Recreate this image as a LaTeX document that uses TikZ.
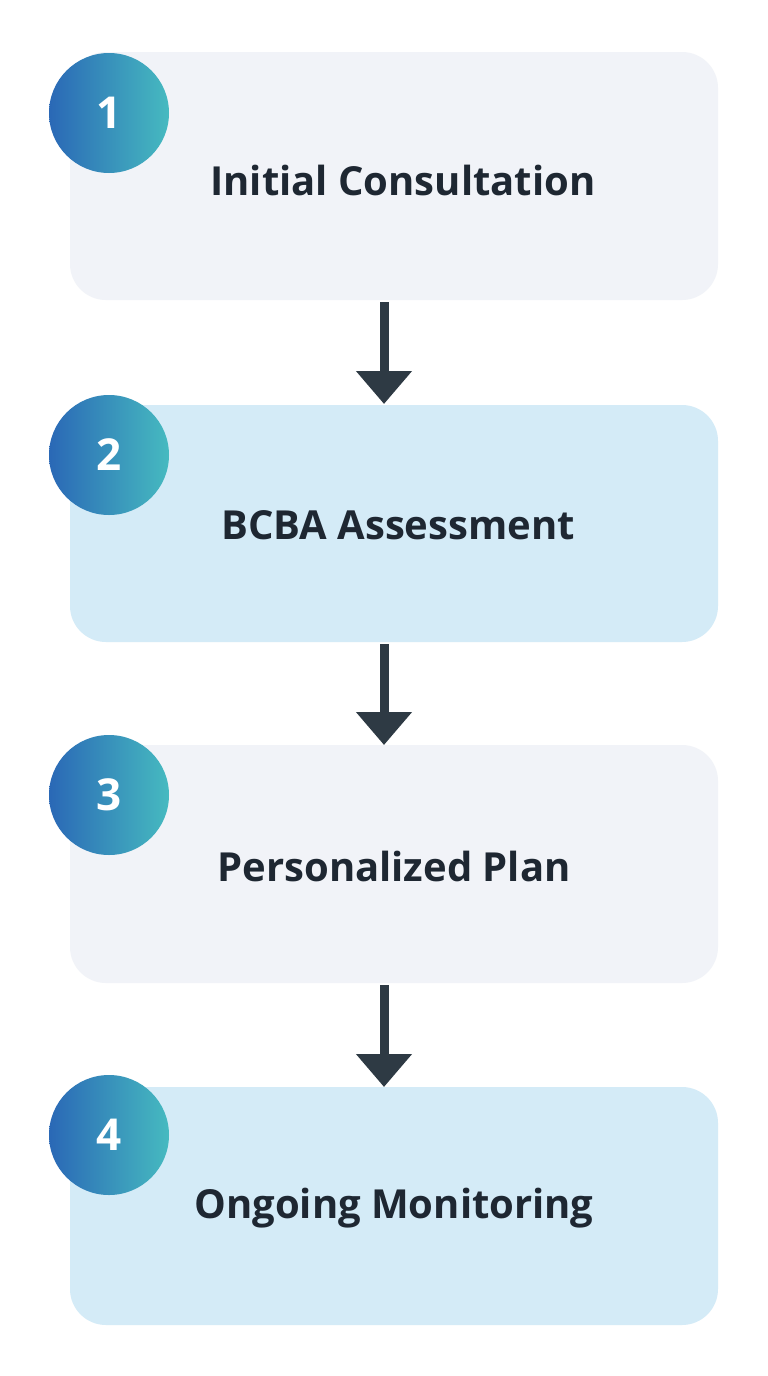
\documentclass[tikz,border=0pt]{standalone}
\usepackage{fontspec}
\setmainfont{Open Sans}
\usetikzlibrary{arrows.meta}
\definecolor{boxa}{HTML}{F1F3F8}
\definecolor{boxb}{HTML}{D4EBF7}
\definecolor{cl}{HTML}{2A68B6}
\definecolor{cr}{HTML}{46BAC0}
\definecolor{ink}{HTML}{1E2732}
\definecolor{arr}{HTML}{2E3A44}
\begin{document}
\begin{tikzpicture}[x=1pt,y=-1pt,
  card/.style={rounded corners=36pt},
  lbl/.style={font=\fontsize{40}{44}\selectfont\bfseries,text=ink},
  num/.style={circle,minimum size=120pt,inner sep=0pt,left color=cl,right color=cr,font=\fontsize{44}{48}\selectfont\bfseries,text=white},
  conn/.style={draw=arr,line width=9pt,-{Triangle[length=33pt,width=54pt]}}]
\useasboundingbox[fill=white] (0,0) rectangle (768,1376);
\fill[boxa,card] (70,52) rectangle (718,300);
\fill[boxb,card] (70,405) rectangle (718,642);
\fill[boxa,card] (70,745) rectangle (718,983);
\fill[boxb,card] (70,1087) rectangle (718,1325);
\node[lbl] (t1) at (403,180) {Initial Consultation};
\node[lbl] (t2) at (398,525) {BCBA Assessment};
\node[lbl] (t3) at (394,866) {Personalized Plan};
\node[lbl] (t4) at (394,1208) {Ongoing Monitoring};
\node[num] (n1) at (109,113) {1};
\node[num] (n2) at (109,455) {2};
\node[num] (n3) at (109,795) {3};
\node[num] (n4) at (109,1135) {4};
\coordinate (a1) at (384,302); \coordinate (b1) at (384,404);
\coordinate (a2) at (384,644); \coordinate (b2) at (384,745);
\coordinate (a3) at (384,985); \coordinate (b3) at (384,1087);
\draw[conn] (a1) -- (b1);
\draw[conn] (a2) -- (b2);
\draw[conn] (a3) -- (b3);
\end{tikzpicture}
\end{document}
